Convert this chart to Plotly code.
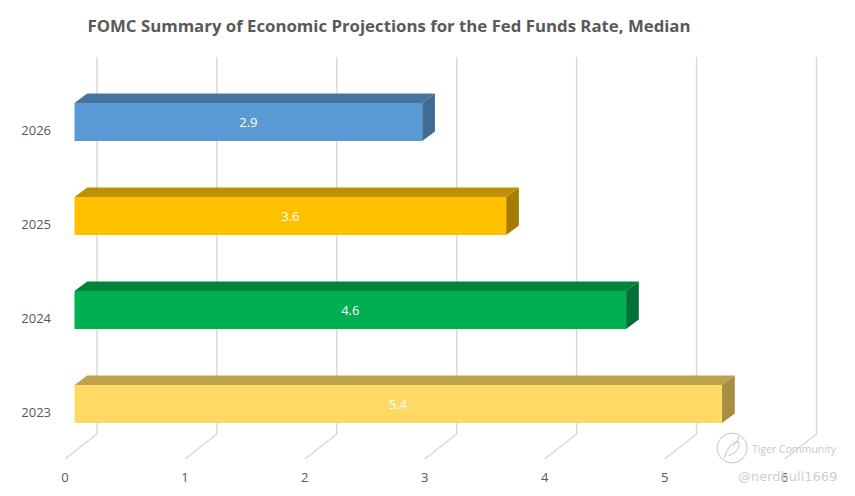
import plotly.graph_objects as go

# --- data ---
years = ["2023", "2024", "2025", "2026"]
rates = [5.4, 4.6, 3.6, 2.9]
x_ticks = [0, 1, 2, 3, 4, 5, 6]
front_colors = ["#FFD966", "#00B050", "#FFC000", "#5B9BD5"]
top_colors = ["#BFA34C", "#00843C", "#BF9000", "#44749F"]
side_colors = ["#A68D42", "#007038", "#A67D00", "#3F6C95"]
title_text = "FOMC Summary of Economic Projections for the Fed Funds Rate, Median"

# --- geometry of the pseudo 3D look, in pixels ---
W, H = 855, 496
PX_X0, PX_X_END = 64.5, 830
PX_Y_BOTTOM, PX_Y_TOP = 459, 57
PX_Y_CAT0 = 412
UX, UY = 120.0, 94.0  # pixels per data unit


def dx(px):
    return px / UX


def dy(px):
    return px / UY


y_pos = list(range(len(years)))
bar_base = dx(9.5)
bar_lift = dy(8)
bar_h = dy(38)
depth_x, depth_y = dx(12.7), dy(9.5)
floor_x, floor_y = dx(32), dy(25)
y_min = -(PX_Y_BOTTOM - PX_Y_CAT0) / UY
y_max = (PX_Y_CAT0 - PX_Y_TOP) / UY

fig = go.Figure()

fig.add_trace(go.Bar(
    y=[p + bar_lift for p in y_pos], x=rates, base=bar_base, orientation="h",
    width=bar_h, marker=dict(color=front_colors, line=dict(width=0)),
    text=[f"{r:.1f}" for r in rates], textposition="inside",
    insidetextanchor="middle", textangle=0,
    textfont=dict(color="#FFFFFF", size=13, family="Open Sans"),
    showlegend=False, hoverinfo="skip",
))

for p, r, tc, sc in zip(y_pos, rates, top_colors, side_colors):
    x0, x1 = bar_base, bar_base + r
    ytop = p + bar_lift + bar_h / 2
    ybot = p + bar_lift - bar_h / 2
    fig.add_trace(go.Scatter(
        x=[x0, x0 + depth_x, x1 + depth_x, x1, x0],
        y=[ytop, ytop + depth_y, ytop + depth_y, ytop, ytop],
        mode="lines", fill="toself", fillcolor=tc, line=dict(width=0),
        showlegend=False, hoverinfo="skip",
    ))
    fig.add_trace(go.Scatter(
        x=[x1, x1 + depth_x, x1 + depth_x, x1, x1],
        y=[ytop, ytop + depth_y, ybot + depth_y, ybot, ytop],
        mode="lines", fill="toself", fillcolor=sc, line=dict(width=0),
        showlegend=False, hoverinfo="skip",
    ))

shapes = []
for t in x_ticks:
    path = (f"M {t},{y_min} L {t + floor_x},{y_min + floor_y} "
            f"L {t + floor_x},{y_max}")
    shapes.append(dict(type="path", xref="x", yref="y", path=path, layer="below",
                       line=dict(color="#D9D9D9", width=1.5)))

# watermark logo
LOGO = "#C4C4C4"
shapes.append(dict(type="circle", xref="paper", yref="paper",
                   x0=(717 - PX_X0) / (PX_X_END - PX_X0),
                   x1=(747 - PX_X0) / (PX_X_END - PX_X0),
                   y0=(PX_Y_BOTTOM - 463) / (PX_Y_BOTTOM - PX_Y_TOP),
                   y1=(PX_Y_BOTTOM - 433) / (PX_Y_BOTTOM - PX_Y_TOP),
                   layer="above", line=dict(color=LOGO, width=1)))


def logo_pt(px, py):
    return f"{(px - PX_X0) / (PX_X_END - PX_X0)},{(PX_Y_BOTTOM - py) / (PX_Y_BOTTOM - PX_Y_TOP)}"


shapes.append(dict(type="path", xref="paper", yref="paper", layer="above",
                   line=dict(color=LOGO, width=1),
                   path=f"M {logo_pt(724, 458)} Q {logo_pt(728, 444)} {logo_pt(738, 441)} "
                        f"Q {logo_pt(743, 450)} {logo_pt(728, 456)} "
                        f"M {logo_pt(733, 446)} Q {logo_pt(738, 442)} {logo_pt(739, 436)}"))

fig.update_layout(
    width=W, height=H,
    margin=dict(l=PX_X0, r=W - PX_X_END, t=PX_Y_TOP, b=H - PX_Y_BOTTOM, autoexpand=False),
    paper_bgcolor="#FFFFFF", plot_bgcolor="#FFFFFF",
    font=dict(family="Open Sans", color="#595959", size=13),
    title=dict(text=f"<b>{title_text}</b>", x=389 / W, xanchor="center",
               y=1 - 26 / H, yanchor="middle",
               font=dict(family="Open Sans", size=16.8, color="#595959")),
    xaxis=dict(range=[0, (PX_X_END - PX_X0) / UX], tickmode="array", tickvals=x_ticks,
               ticktext=[str(t) for t in x_ticks], showgrid=False, zeroline=False,
               showline=False, ticks="", ticklabelstandoff=9,
               tickfont=dict(size=13, color="#595959")),
    yaxis=dict(range=[y_min, y_max], tickmode="array", tickvals=y_pos, ticktext=years,
               showgrid=False, zeroline=False, showline=False, ticks="",
               ticklabelstandoff=13, tickfont=dict(size=13, color="#595959")),
    shapes=shapes,
    annotations=[
        dict(text="Tiger Community", xref="paper", yref="paper",
             x=(794.5 - PX_X0) / (PX_X_END - PX_X0),
             y=(PX_Y_BOTTOM - 449) / (PX_Y_BOTTOM - PX_Y_TOP),
             xanchor="center", yanchor="middle", showarrow=False,
             font=dict(family="Open Sans", size=10.5, color="#C8C8C8")),
        dict(text="@nerdbull1669", xref="paper", yref="paper",
             x=(787 - PX_X0) / (PX_X_END - PX_X0),
             y=(PX_Y_BOTTOM - 476) / (PX_Y_BOTTOM - PX_Y_TOP),
             xanchor="center", yanchor="middle", showarrow=False,
             font=dict(family="DejaVu Sans", size=13, color="#D0D0D0")),
    ],
)

fig.write_html("out.html", config={"displayModeBar": False},
               post_script="document.body.style.margin='0';")
